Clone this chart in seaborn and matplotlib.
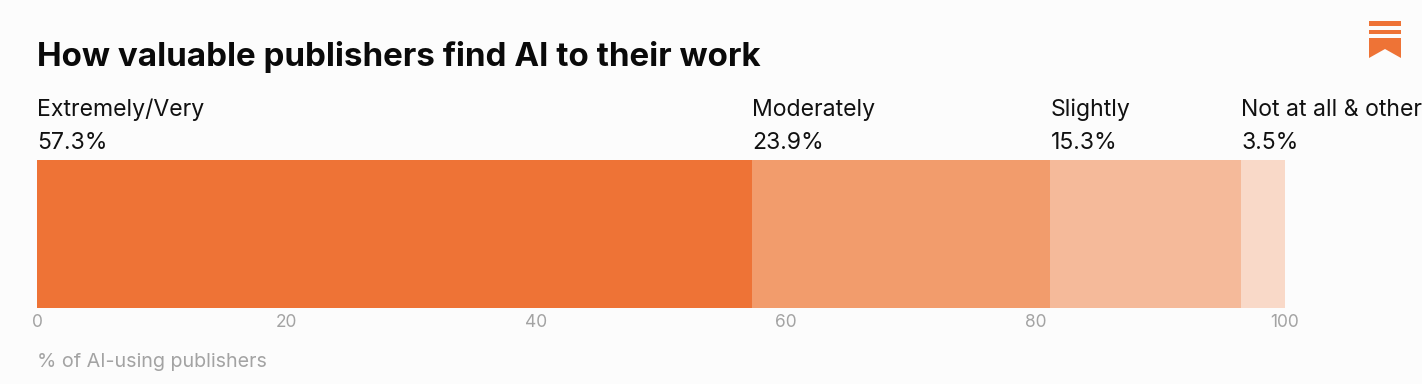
import matplotlib
matplotlib.use("Agg")
import matplotlib.pyplot as plt
from matplotlib.patches import Polygon, Rectangle
import pandas as pd
import seaborn as sns

categories = ["Extremely/Very", "Moderately", "Slightly", "Not at all & other"]
shares = [57.3, 23.9, 15.3, 3.5]
colors = ["#EE7336", "#F29C6C", "#F5BA9A", "#F9D9C8"]
x_ticks = [0, 20, 40, 60, 80, 100]

sns.set_theme(style="white")
plt.rcParams["font.family"] = ["Inter", "DejaVu Sans"]

W, H = 1422, 384
BG = "#FCFCFC"


def main():
    df = pd.DataFrame({"category": categories, "share": shares})
    df["left"] = df["share"].cumsum().shift(fill_value=0)

    fig = plt.figure(figsize=(W / 100, H / 100), dpi=100, facecolor=BG)
    ax = fig.add_axes([37 / W, 1 - 307.5 / H, 1248 / W, 147.5 / H], facecolor=BG)

    # one bar per segment, stacked with left=
    for i, row in df.iterrows():
        sns.barplot(x=[row["share"]], y=["all"], left=row["left"], color=colors[i],
                    width=1.0, saturation=1, ax=ax, orient="h", linewidth=0, edgecolor="none")
        ax.text(row["left"], 1.04, f"{row['category']}\n{row['share']}%",
                transform=ax.get_xaxis_transform(), ha="left", va="bottom",
                fontsize=16.6, color="#111111", linespacing=1.65)

    ax.set_xlim(0, 100)
    ax.set_ylim(0.5, -0.5)
    ax.set_xticks(x_ticks)
    ax.set_xlabel("")
    ax.set_ylabel("")
    ax.set_yticks([])
    ax.tick_params(axis="x", length=0, pad=5, labelsize=12.5, labelcolor="#A3A3A3")
    sns.despine(ax=ax, left=True, top=True, right=True, bottom=True)

    fig.text(37 / W, 1 - 57 / H, "How valuable publishers find AI to their work",
             fontsize=23.85, fontweight="bold", color="#0A0A0A", va="center", ha="left")
    fig.text(37 / W, 1 - 362 / H, "% of AI-using publishers",
             fontsize=14.2, color="#A3A3A3", va="center", ha="left")

    # bookmark logo, top right, in pixel coordinates
    logo = "#EE7336"
    tr = fig.transFigure
    for top, bottom in [(21, 25.5), (30, 34)]:
        fig.add_artist(Rectangle((1369 / W, 1 - bottom / H), 32 / W, (bottom - top) / H,
                                 transform=tr, color=logo, lw=0))
    pts = [(1369, 38), (1401, 38), (1401, 58), (1385, 49), (1369, 58)]
    fig.add_artist(Polygon([(x / W, 1 - y / H) for x, y in pts], transform=tr, color=logo, lw=0))

    fig.savefig("out.png", dpi=100, facecolor=BG)


if __name__ == "__main__":
    main()
